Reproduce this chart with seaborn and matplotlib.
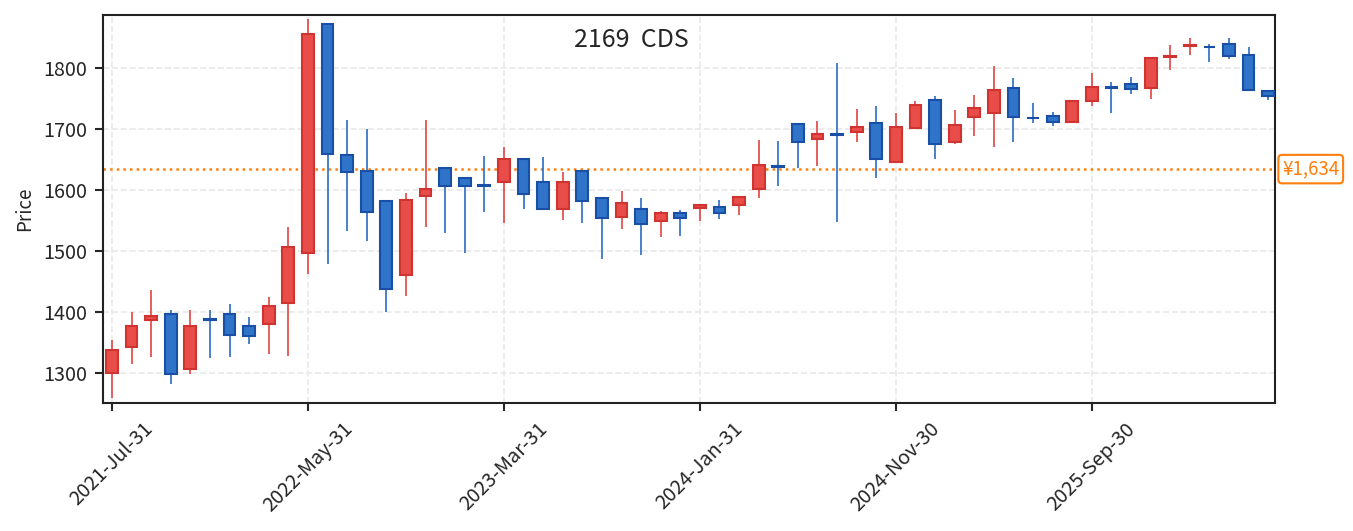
import pandas as pd
import numpy as np
import matplotlib
matplotlib.use("Agg")
import matplotlib.pyplot as plt
import seaborn as sns

# monthly candles
dates = pd.date_range("2021-07-31", periods=60, freq="ME")
opens = [1300.5, 1343.2, 1386.9, 1396.2, 1306.6, 1389.0, 1396.2, 1377.6, 1380.3, 1414.8,
         1497.2, 1872.1, 1656.3, 1631.7, 1582.5, 1460.7, 1590.2, 1636.6, 1620.2, 1608.0,
         1612.6, 1651.3, 1613.6, 1568.3, 1631.7, 1587.4, 1555.7, 1569.4, 1549.2, 1561.8,
         1570.0, 1572.7, 1575.4, 1601.6, 1639.0, 1708.7, 1683.6, 1691.0, 1694.0, 1710.3,
         1645.9, 1701.6, 1746.4, 1678.2, 1719.7, 1725.7, 1766.1, 1718.5, 1720.2, 1711.5,
         1745.9, 1768.0, 1772.6, 1766.7, 1817.8, 1835.8, 1834.8, 1838.3, 1820.2, 1761.2]
highs = [1354.1, 1399.5, 1436.0, 1403.3, 1403.3, 1403.3, 1413.1, 1391.3, 1424.0, 1539.9,
         1879.8, 1872.1, 1714.8, 1700.0, 1582.5, 1594.6, 1714.8, 1636.6, 1620.2, 1655.7,
         1671.0, 1651.3, 1654.6, 1629.0, 1631.7, 1587.4, 1598.4, 1586.4, 1565.6, 1567.0,
         1576.0, 1583.6, 1589.0, 1682.0, 1680.3, 1708.7, 1713.1, 1807.6, 1732.8, 1737.7,
         1725.7, 1745.9, 1754.1, 1731.1, 1755.7, 1803.3, 1783.1, 1742.1, 1727.3, 1744.8,
         1791.3, 1776.5, 1784.7, 1816.9, 1837.7, 1848.6, 1838.8, 1848.6, 1833.9, 1763.9]
lows = [1258.5, 1314.2, 1326.8, 1281.4, 1297.9, 1324.0, 1325.7, 1347.0, 1330.6, 1328.4,
        1461.8, 1478.2, 1533.3, 1516.9, 1400.5, 1426.8, 1539.9, 1529.0, 1496.2, 1564.4,
        1545.4, 1568.3, 1568.3, 1550.8, 1545.4, 1487.4, 1536.6, 1494.0, 1523.5, 1525.1,
        1549.7, 1553.0, 1559.5, 1587.4, 1607.0, 1636.6, 1639.9, 1547.0, 1677.6, 1620.2,
        1645.9, 1699.5, 1651.3, 1674.9, 1689.0, 1669.4, 1679.2, 1709.3, 1705.4, 1711.5,
        1736.6, 1725.1, 1756.9, 1748.6, 1795.6, 1820.2, 1808.7, 1814.2, 1763.9, 1746.4]
closes = [1337.7, 1377.6, 1394.0, 1298.4, 1377.6, 1387.5, 1362.3, 1361.2, 1410.3, 1507.0,
          1855.7, 1659.0, 1629.0, 1563.9, 1437.7, 1584.1, 1601.6, 1606.6, 1606.6, 1606.5,
          1651.3, 1593.4, 1568.3, 1612.6, 1581.5, 1553.6, 1578.2, 1544.3, 1561.8, 1553.6,
          1575.9, 1561.8, 1589.0, 1641.5, 1637.5, 1678.7, 1691.3, 1689.5, 1702.7, 1650.8,
          1702.2, 1738.2, 1675.4, 1707.0, 1733.3, 1764.4, 1719.7, 1717.0, 1711.5, 1744.8,
          1767.7, 1766.5, 1765.6, 1815.3, 1819.4, 1837.4, 1833.4, 1819.7, 1763.9, 1754.1]
ref_price = 1634
ticker = "2169  CDS"

df = pd.DataFrame({"date": dates, "open": opens, "high": highs, "low": lows, "close": closes})
df["pos"] = np.arange(len(df))
df["up"] = df["close"] >= df["open"]

sns.set_theme(style="ticks")
plt.rcParams["font.family"] = ["Noto Sans CJK JP", "DejaVu Sans"]

up_fill, up_edge = "#e84d4a", "#cf3431"
dn_fill, dn_edge = "#2f74c9", "#1a4fa6"

fig, ax = plt.subplots(figsize=(9.02, 3.54), dpi=150)
fig.subplots_adjust(left=0.0761, right=0.9424, bottom=0.241, top=0.9717)

fills = np.where(df["up"], up_fill, dn_fill)
edges = np.where(df["up"], up_edge, dn_edge)

# wicks
ax.vlines(df["pos"], df["low"], df["high"], colors=np.where(df["up"], "#e04543", "#2a6cc2"),
          linewidth=0.8, zorder=2)
# bodies
body_bottom = df[["open", "close"]].min(axis=1)
body_height = (df["close"] - df["open"]).abs()
ax.bar(df["pos"], body_height, bottom=body_bottom, width=0.6, color=fills,
       edgecolor=edges, linewidth=1.0, zorder=3)

ax.axhline(ref_price, color="#ff7f0e", linestyle=":", linewidth=1.2, zorder=1)
ax.text(1.006, ref_price, f"¥{ref_price:,}", transform=ax.get_yaxis_transform(),
        ha="left", va="center", fontsize=9, color="#ff7f0e",
        bbox=dict(boxstyle="round,pad=0.2", fc="white", ec="#ff7f0e", lw=1.0))

ax.text(0.451, 0.936, ticker, transform=ax.transAxes, ha="center", va="center", fontsize=12)

tick_idx = list(range(0, len(df), 10))
ax.set_xticks(tick_idx)
ax.set_xticklabels([df["date"][i].strftime("%Y-%b-%d") for i in tick_idx], rotation=45)
ax.set_yticks([1300, 1400, 1500, 1600, 1700, 1800])
ax.set_xlim(-0.46, 59.35)
ax.set_ylim(1250.8, 1886.4)
ax.tick_params(labelsize=9.5, length=4, width=1)
ax.set_ylabel("Price", fontsize=9)
ax.set_xlabel("")

ax.grid(True, linestyle="--", color="#e9e9e9", linewidth=0.8)
ax.set_axisbelow(True)
for s in ax.spines.values():
    s.set_color("#222222")
    s.set_linewidth(1.0)

fig.savefig("out.png", dpi=150)
